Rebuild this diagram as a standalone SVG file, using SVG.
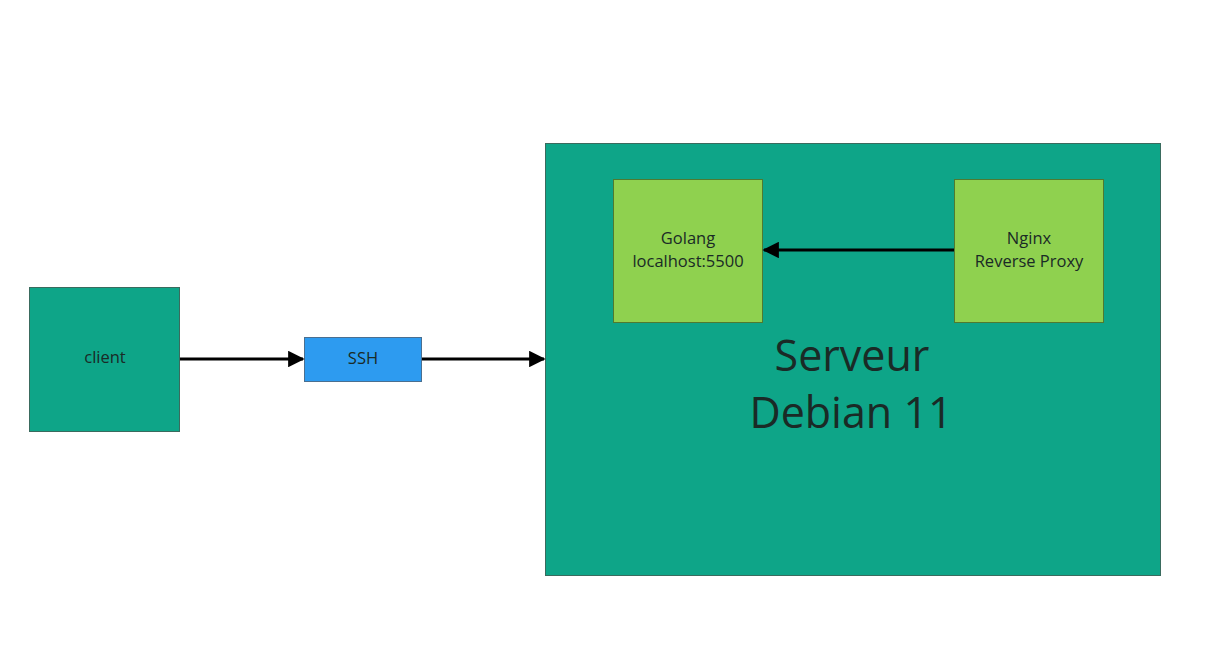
<svg xmlns="http://www.w3.org/2000/svg" width="1215" height="654" viewBox="0 0 1215 654">
<defs>
<style>
.teal{fill:#0ea588;stroke:#3a6b5e;stroke-width:1}
.lime{fill:#8fd14f;stroke:#4f7a30;stroke-width:1}
.blue{fill:#2d9bf0;stroke:#4a6f90;stroke-width:1}
text{font-family:"Open Sans","Noto Sans","Liberation Sans",sans-serif;fill:#1a2a26;text-anchor:middle}
.s{font-size:16.5px}
.big{font-size:43px}
.conn{stroke:#000;stroke-width:3;fill:none;marker-end:url(#arr)}
</style>
<marker id="arr" viewBox="0 0 10 10" refX="9" refY="5" markerWidth="5.5" markerHeight="5.5" markerUnits="strokeWidth" orient="auto">
<path d="M0,0 L10,5 L0,10 z" fill="#000"/>
</marker>
</defs>
<rect width="1215" height="654" fill="#fff"/>
<g id="server">
<rect class="teal" x="545.5" y="143.5" width="615" height="432"/>
<text class="big" x="852" y="371">Serveur</text>
<text class="big" x="851" y="428">Debian 11</text>
</g>
<g id="client">
<rect class="teal" x="29.5" y="287.5" width="150" height="144"/>
<text class="s" x="105" y="363">client</text>
</g>
<g id="ssh">
<rect class="blue" x="304.5" y="337.5" width="117" height="44"/>
<text class="s" x="363" y="364">SSH</text>
</g>
<g id="golang">
<rect class="lime" x="613.5" y="179.5" width="149" height="143"/>
<text class="s" x="688" y="244">Golang</text>
<text class="s" x="688" y="267">localhost:5500</text>
</g>
<g id="nginx">
<rect class="lime" x="954.5" y="179.5" width="149" height="143"/>
<text class="s" x="1029" y="244">Nginx</text>
<text class="s" x="1029" y="267">Reverse Proxy</text>
</g>
<g id="connectors">
<line class="conn" x1="180" y1="359" x2="303" y2="359"/>
<line class="conn" x1="422" y1="359" x2="544" y2="359"/>
<line class="conn" x1="954" y1="250" x2="764" y2="250"/>
</g>
</svg>
